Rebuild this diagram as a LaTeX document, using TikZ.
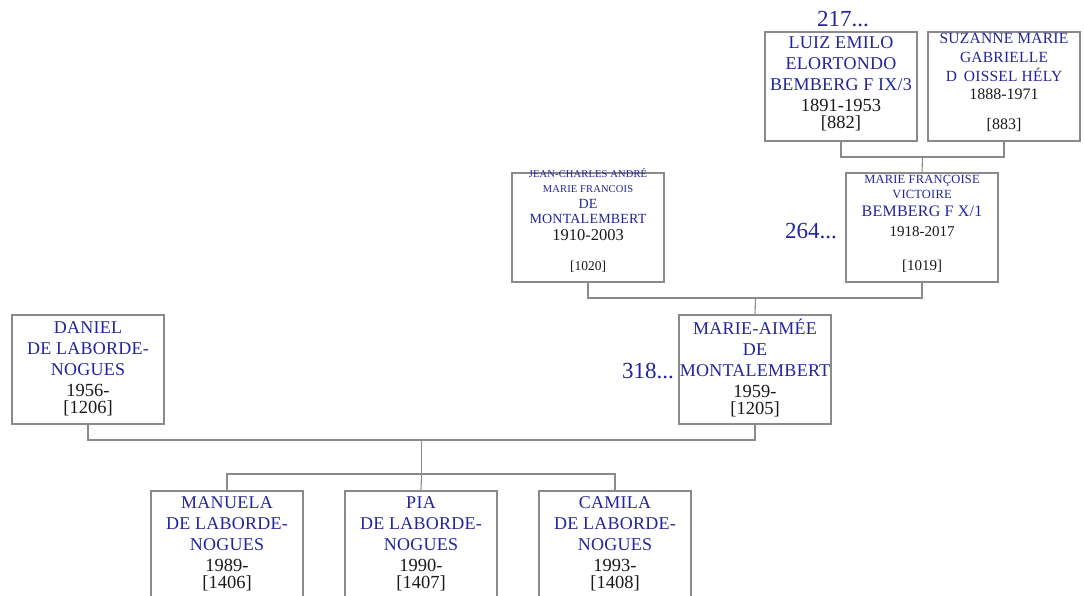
\documentclass[tikz,border=0pt]{standalone}
\usepackage{fontspec}
\setmainfont{Liberation Serif}
\newfontfamily\namefont[LetterSpace=1.5]{Liberation Serif}
\definecolor{nameblue}{RGB}{35,35,155}
\definecolor{boxgray}{RGB}{138,138,138}
\definecolor{textblack}{RGB}{25,25,25}
\newcommand\NM[2]{{\color{nameblue}\namefont\fontsize{#1}{#1}\selectfont #2}}
\begin{document}
\begin{tikzpicture}[x=1pt,y=-1pt,
  box/.style={draw=boxgray, line width=1.1pt, minimum width=152pt, minimum height=109pt, inner sep=0pt, outer sep=0pt, anchor=north west},
  txt/.style={align=center, inner sep=0pt, outer sep=0pt, anchor=north, text=textblack},
  main/.style={txt, font=\fontsize{18.5}{21}\selectfont},
  num/.style={inner sep=0pt, anchor=base west, text=nameblue, font=\fontsize{23}{23}\selectfont},
  link/.style={draw=boxgray, line width=1.1pt}]
\useasboundingbox (0,0) rectangle (1084,596);
\clip (0,0) rectangle (1084,596);
% boxes
\node[box] (luiz) at (765,32) {};
\node[box] (suz) at (928,32) {};
\node[box] (jean) at (512,173) {};
\node[box] (mf) at (846,173) {};
\node[box] (ma) at (679,315) {};
\node[box] (dan) at (12,315) {};
\node[box] (manu) at (151,491) {};
\node[box] (pia) at (345,491) {};
\node[box] (cami) at (539,491) {};
% texts
\node[main] (luizT) at (841,31.5) {\rule{0pt}{17pt}\NM{18}{LUIZ EMILO}\\\NM{18}{ELORTONDO}\\\NM{18}{BEMBERG F IX/3}\\1891-1953\\[-4pt][882]};
\node[txt, font=\fontsize{16}{19}\selectfont] (suzT) at (1004,29.5) {\rule{0pt}{14pt}\NM{15.5}{SUZANNE MARIE}\\\NM{15.5}{GABRIELLE}\\\NM{15.5}{D\hspace{0.45em}OISSEL HÉLY}\\[-1pt]1888-1971\\[11pt][883]};
\node[txt, font=\fontsize{16.5}{15.5}\selectfont] (jeanT) at (588,163) {\rule{0pt}{14pt}\NM{10.5}{JEAN-CHARLES ANDRÉ}\\\NM{10.5}{MARIE FRANCOIS}\\\NM{14}{DE}\\\NM{14}{MONTALEMBERT}\\[1.5pt]1910-2003\\[14pt]{\fontsize{13.5}{13.5}\selectfont [1020]}};
\node[txt, font=\fontsize{15}{15.5}\selectfont] (mfT) at (922,169) {\rule{0pt}{14pt}\NM{12.5}{MARIE FRANÇOISE}\\\NM{12.5}{VICTOIRE}\\[2.5pt]\NM{16}{BEMBERG F X/1}\\[4.5pt]1918-2017\\[18pt][1019]};
\node[main] (maT) at (755,317) {\rule{0pt}{17pt}\NM{18}{MARIE-AIMÉE}\\\NM{18}{DE}\\\NM{18}{MONTALEMBERT}\\1959-\\[-4pt][1205]};
\node[main] (danT) at (88,316) {\rule{0pt}{17pt}\NM{18}{DANIEL}\\\NM{18}{DE LABORDE-}\\\NM{18}{NOGUES}\\1956-\\[-4pt][1206]};
\node[main] (manuT) at (227,491) {\rule{0pt}{17pt}\NM{18}{MANUELA}\\\NM{18}{DE LABORDE-}\\\NM{18}{NOGUES}\\1989-\\[-4pt][1406]};
\node[main] (piaT) at (421,491) {\rule{0pt}{17pt}\NM{18}{PIA}\\\NM{18}{DE LABORDE-}\\\NM{18}{NOGUES}\\1990-\\[-4pt][1407]};
\node[main] (camiT) at (615,491) {\rule{0pt}{17pt}\NM{18}{CAMILA}\\\NM{18}{DE LABORDE-}\\\NM{18}{NOGUES}\\1993-\\[-4pt][1408]};
% generation numbers
\node[num] (n217) at (817,26.5) {217...};
\node[num] (n264) at (785,238) {264...};
\node[num] (n318) at (622,378) {318...};
% connectors
\coordinate (j1) at (922.5,157);
\coordinate (j2) at (755.5,298);
\coordinate (j3) at (421.5,440);
\coordinate (j4) at (421.5,474);
\draw[link] (luiz.south) |- (j1) -| (suz.south);
\draw[link] (j1) -- (mf.north);
\draw[link] (jean.south) |- (j2) -| (mf.south);
\draw[link] (j2) -- (ma.north);
\draw[link] (dan.south) |- (j3) -| (ma.south);
\draw[link] (j3) -- (j4);
\draw[link] (manu.north) |- (j4) -| (cami.north);
\draw[link] (j4) -- (pia.north);
\end{tikzpicture}
\end{document}
